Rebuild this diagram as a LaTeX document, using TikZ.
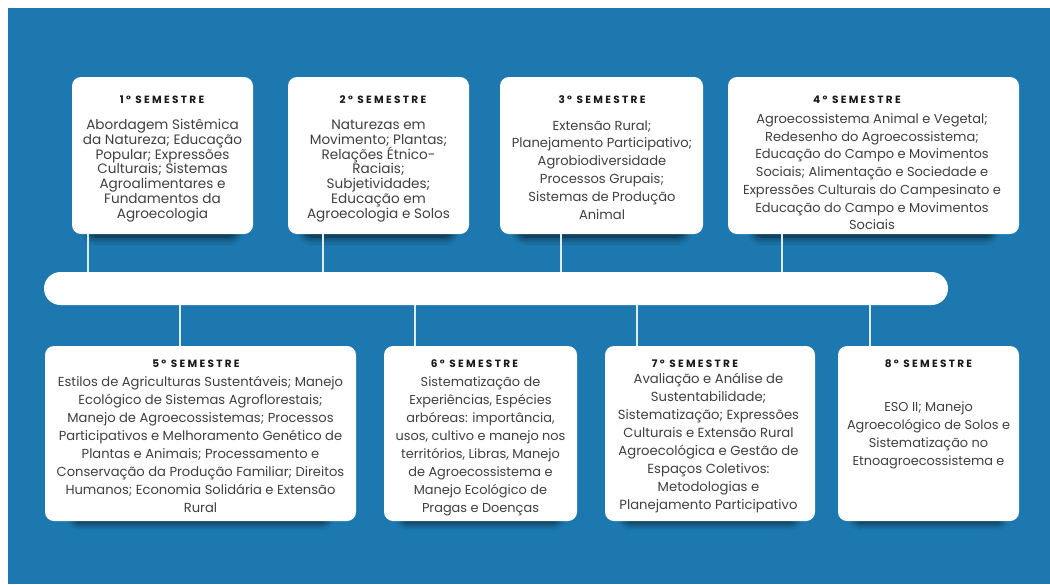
\documentclass[tikz,border=0pt]{standalone}
\usepackage{fontspec}
\setmainfont{Poppins}
\newfontfamily\fonteTitulo{Poppins}[LetterSpace=22]
\usetikzlibrary{shadows.blur}
\definecolor{azul}{RGB}{28,120,174}
\definecolor{cinzatexto}{RGB}{64,64,64}
\begin{document}
\begin{tikzpicture}[x=1pt,y=-1pt, line join=round, line cap=round,
	caixa/.style={fill=white, rounded corners=9pt, inner sep=0pt,
		blur shadow={shadow xshift=0pt, shadow yshift=-21pt, shadow scale=0.82, shadow opacity=75, shadow blur radius=9pt, shadow blur steps=12}},
	titulo/.style={font=\fonteTitulo\bfseries\fontsize{10.5}{12}\selectfont, text=black!90, inner sep=0pt},
	texto/.style={align=center, text=cinzatexto, inner sep=0pt, anchor=base},
	conector/.style={draw=white!85!azul, line width=1.4pt}]
	\def\Wpic{1050} \def\Hpic{584}
	\useasboundingbox (0,0) rectangle (\Wpic,\Hpic);
	\fill[white] (0,0) rectangle (\Wpic,\Hpic);
	\fill[azul] (8,8) rectangle (\Wpic,\Hpic);
	% linha do tempo
	\node[fill=white, rounded corners=16.5pt, minimum width=904pt, minimum height=33pt, inner sep=0pt] (linha) at (496,288.5) {};
	% caixas de cima
	\node[caixa, minimum width=181pt, minimum height=157pt] (s1) at (162.5,155.5) {};
	\node[caixa, minimum width=181pt, minimum height=157pt] (s2) at (378.5,155.5) {};
	\node[caixa, minimum width=203pt, minimum height=157pt] (s3) at (601.5,155.5) {};
	\node[caixa, minimum width=291pt, minimum height=157pt] (s4) at (873.5,155.5) {};
	% caixas de baixo
	\node[caixa, minimum width=311pt, minimum height=175pt] (s5) at (200.5,433.5) {};
	\node[caixa, minimum width=193pt, minimum height=175pt] (s6) at (480.5,433.5) {};
	\node[caixa, minimum width=210pt, minimum height=175pt] (s7) at (710,433.5) {};
	\node[caixa, minimum width=181pt, minimum height=175pt] (s8) at (928.5,433.5) {};
	% conectores
	\foreach \n/\xc in {1/88, 2/323, 3/561, 4/782}
		\draw[conector] (s\n.south -| \xc,0) -- (linha.north -| \xc,0);
	\foreach \n/\xc in {5/180, 6/415, 7/637, 8/870}
		\draw[conector] (linha.south -| \xc,0) -- (s\n.north -| \xc,0);
	% titulos
	\node[titulo] (t1) at (162,100) {1° SEMESTRE};
	\node[titulo] (t2) at (383,100) {2° SEMESTRE};
	\node[titulo] (t3) at (602,100) {3° SEMESTRE};
	\node[titulo] (t4) at (857,100) {4° SEMESTRE};
	\node[titulo] (t5) at (196,364) {5° SEMESTRE};
	\node[titulo] (t6) at (474.5,364) {6° SEMESTRE};
	\node[titulo] (t7) at (695,364) {7° SEMESTRE};
	\node[titulo] (t8) at (928.5,364) {8° SEMESTRE};
	% textos (base = ultima linha)
	\node[texto, font=\fontsize{13.6}{14.67}\selectfont] (d1) at (162.5,218) {Abordagem Sistêmica\\da Natureza; Educação\\Popular; Expressões\\Culturais; Sistemas\\Agroalimentares e\\Fundamentos da\\Agroecologia};
	\node[texto, font=\fontsize{13.6}{14.67}\selectfont] (d2) at (378.5,218) {Naturezas em\\Movimento; Plantas;\\Relações Étnico-\\Raciais;\\Subjetividades;\\Educação em\\Agroecologia e Solos};
	\node[texto, font=\fontsize{13.1}{17.9}\selectfont] (d3) at (602,219.5) {Extensão Rural;\\Planejamento Participativo;\\Agrobiodiversidade\\Processos Grupais;\\Sistemas de Produção\\Animal};
	\node[texto, font=\fontsize{13}{17.7}\selectfont] (d4) at (872,229.7) {Agroecossistema Animal e Vegetal;\\Redesenho do Agroecossistema;\\Educação do Campo e Movimentos\\Sociais; Alimentação e Sociedade e\\Expressões Culturais do Campesinato e\\Educação do Campo e Movimentos\\Sociais};
	\node[texto, font=\fontsize{13.1}{17.9}\selectfont] (d5) at (200.5,512) {Estilos de Agriculturas Sustentáveis; Manejo\\Ecológico de Sistemas Agroflorestais;\\Manejo de Agroecossistemas; Processos\\Participativos e Melhoramento Genético de\\Plantas e Animais; Processamento e\\Conservação da Produção Familiar; Direitos\\Humanos; Economia Solidária e Extensão\\Rural};
	\node[texto, font=\fontsize{12.9}{18}\selectfont] (d6) at (480.5,512.5) {Sistematização de\\Experiências, Espécies\\arbóreas: importância,\\usos, cultivo e manejo nos\\territórios, Libras, Manejo\\de Agroecossistema e\\Manejo Ecológico de\\Pragas e Doenças};
	\node[texto, font=\fontsize{13.2}{18}\selectfont] (d7) at (708.5,509.5) {Avaliação e Análise de\\Sustentabilidade;\\Sistematização; Expressões\\Culturais e Extensão Rural\\Agroecológica e Gestão de\\Espaços Coletivos:\\Metodologias e\\Planejamento Participativo};
	\node[texto, font=\fontsize{12.9}{18}\selectfont] (d8) at (928.5,465) {ESO II; Manejo\\Agroecológico de Solos e\\Sistematização no\\Etnoagroecossistema e};
\end{tikzpicture}
\end{document}
